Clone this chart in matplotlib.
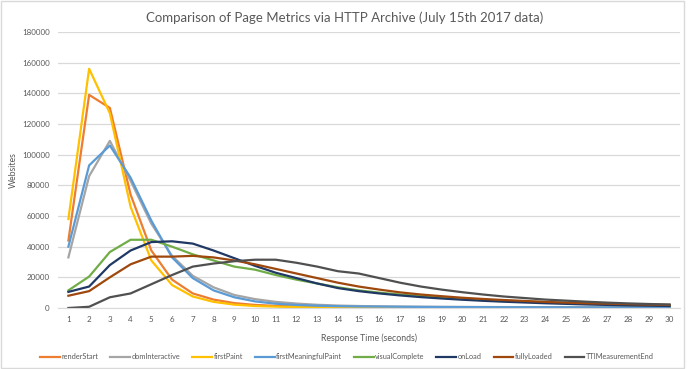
import matplotlib.pyplot as plt
import matplotlib.patches as mpatches
import numpy as np

plt.rcParams['font.family'] = ['Lato', 'DejaVu Sans']

seconds = list(range(1, 31))

renderStart = [44000, 139000, 130500, 74000, 37500, 18500, 9500, 5500, 3200, 2000,
               1400, 1000, 800, 600, 500, 400, 350, 300, 250, 220,
               200, 180, 160, 150, 140, 130, 120, 110, 100, 100]
domInteractive = [33000, 86000, 109000, 83000, 55000, 34000, 21000, 13500, 8500, 5800,
                  4000, 2900, 2100, 1600, 1300, 1100, 950, 850, 750, 700,
                  650, 600, 560, 530, 500, 480, 460, 440, 420, 400]
firstPaint = [58000, 156000, 127000, 66000, 31000, 15000, 7500, 4000, 2200, 1300,
              900, 600, 450, 350, 300, 250, 200, 180, 160, 150,
              140, 130, 120, 110, 100, 100, 90, 90, 80, 80]
firstMeaningfulPaint = [40000, 93000, 106000, 85000, 57000, 33000, 19500, 11500, 7000, 4300,
                        2800, 2000, 1500, 1200, 1000, 900, 800, 700, 650, 600,
                        560, 520, 500, 480, 460, 440, 420, 400, 380, 370]
visualComplete = [11500, 20500, 36500, 44500, 44500, 40000, 35000, 31000, 27000, 25000,
                  21500, 18500, 16000, 13500, 11500, 10000, 8800, 7800, 6900, 6100,
                  5400, 4800, 4300, 3800, 3400, 3000, 2700, 2400, 2100, 1900]
onLoad = [10500, 14000, 28000, 37500, 43000, 43500, 42000, 37500, 32500, 27500,
          23000, 19500, 16000, 13000, 11000, 9500, 8200, 7100, 6200, 5400,
          4700, 4100, 3600, 3100, 2700, 2300, 2000, 1700, 1500, 1300]
fullyLoaded = [8000, 11000, 20000, 28500, 33500, 33500, 34000, 33000, 31000, 28500,
               25500, 22500, 19500, 16500, 14000, 12000, 10200, 8800, 7700, 6700,
               5900, 5200, 4600, 4000, 3500, 3100, 2800, 2500, 2200, 2000]
TTIMeasurementEnd = [0, 800, 7000, 9500, 15500, 21500, 27000, 29000, 30500, 31500,
                     31500, 29500, 27000, 24000, 22500, 19500, 16500, 14000, 12000, 10300,
                     8800, 7500, 6500, 5500, 4800, 4100, 3500, 3000, 2600, 2300]

series = [
    ("renderStart", renderStart, "#ED7D31"),
    ("domInteractive", domInteractive, "#A5A5A5"),
    ("firstPaint", firstPaint, "#FFC000"),
    ("firstMeaningfulPaint", firstMeaningfulPaint, "#5B9BD5"),
    ("visualComplete", visualComplete, "#70AD47"),
    ("onLoad", onLoad, "#203864"),
    ("fullyLoaded", fullyLoaded, "#9E480E"),
    ("TTIMeasurementEnd", TTIMeasurementEnd, "#505050"),
]

fig = plt.figure(figsize=(6.9, 3.69), dpi=100)
ax = fig.add_axes([0.0841, 0.1653, 0.9014, 0.748])

for name, vals, col in series:
    ax.plot(seconds, vals, color=col, lw=1.6, label=name, solid_joinstyle='round')

ax.set_xlim(0.5, 30.5)
ax.set_ylim(0, 180000)
ax.set_xticks(seconds)
ax.set_yticks(np.arange(0, 180001, 20000))
ax.tick_params(length=0, labelsize=5.8, colors='#595959', pad=6)
ax.grid(axis='y', color='#D9D9D9', lw=0.9)
ax.set_axisbelow(True)
for s in ['top', 'right', 'left']:
    ax.spines[s].set_visible(False)
ax.spines['bottom'].set_color('#D9D9D9')

ax.set_xlabel("Response Time (seconds)", fontsize=6.3, color='#595959', labelpad=7)
ax.set_ylabel("Websites", fontsize=6.3, color='#595959', labelpad=3)
fig.text(0.5, 0.953, "Comparison of Page Metrics via HTTP Archive (July 15th 2017 data)",
         ha='center', va='center', fontsize=9.5, color='#595959')

leg = fig.legend(loc='center', bbox_to_anchor=(0.503, 0.033), ncol=8, frameon=False,
                 fontsize=5.3, handlelength=2.7, columnspacing=1.6, handletextpad=0.2)
for t in leg.get_texts():
    t.set_color('#595959')

fig.patches.append(mpatches.Rectangle((0.002, 0.004), 0.990, 0.992, transform=fig.transFigure,
                                      fill=False, edgecolor='#D9D9D9', lw=1))

fig.savefig("out.png", dpi=100)
